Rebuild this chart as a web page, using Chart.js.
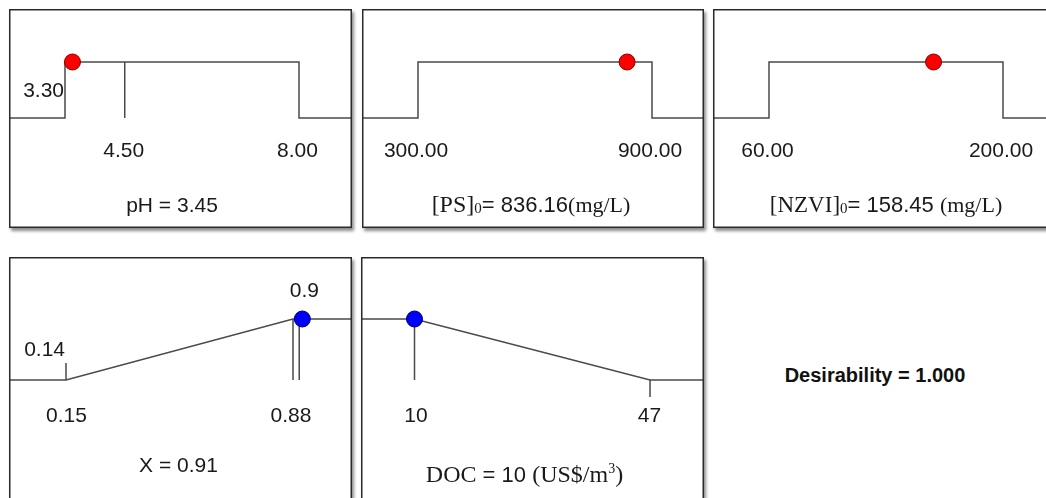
<!DOCTYPE html>
<html>
<head>
<meta charset="utf-8">
<script src="https://cdn.jsdelivr.net/npm/chart.js@4/dist/chart.umd.min.js"></script>
<style>
  html, body { margin: 0; padding: 0; background: #fff; width: 1046px; height: 498px; overflow: hidden; }
  .panel { position: absolute; background: #fff; box-shadow: 2px 3px 3px rgba(0,0,0,0.45); }
  .panel canvas { display: block; }
  #desir { position: absolute; left: 775px; top: 363px; width: 200px; text-align: center;
           font: bold 20px "Liberation Sans", Arial, sans-serif; color: #111; white-space: nowrap; line-height: 24px; }
</style>
</head>
<body>
<div class="panel" id="w1" style="left:9px;top:9px;width:343px;height:219px"><canvas id="c1" width="343" height="219"></canvas></div>
<div class="panel" id="w2" style="left:362px;top:9px;width:342px;height:219px"><canvas id="c2" width="342" height="219"></canvas></div>
<div class="panel" id="w3" style="left:713px;top:9px;width:345px;height:219px"><canvas id="c3" width="345" height="219"></canvas></div>
<div class="panel" id="w4" style="left:9px;top:257px;width:343px;height:250px"><canvas id="c4" width="343" height="250"></canvas></div>
<div class="panel" id="w5" style="left:361px;top:257px;width:343px;height:250px"><canvas id="c5" width="343" height="250"></canvas></div>
<div id="desir"></div>

<script>
// ---------------- data ----------------
const phLimits   = [3.30, 8.00];
const phMarks    = [4.50];
const phValue    = 3.45;
const psLimits   = [300, 900];
const psValue    = 836.16;
const nzviLimits = [60, 200];
const nzviValue  = 158.45;
const xLimits    = [0.15, 0.88];
const xMarks     = [0.88, 0.90];
const xTopLabels = [0.14, 0.9];
const xValue     = 0.91;
const docLimits  = [10, 47];
const docValue   = 10;
const desirabilityLevels = [0, 1];
const desirability = 1.000;

// ---------------- style ----------------
const LINE = '#4a4a4a';
const SANS = '"Liberation Sans", Arial, sans-serif';
const SERIF = '"Liberation Serif", "Times New Roman", serif';
const TXT = '#1a1a1a';
const LO = desirabilityLevels[0], HI = desirabilityLevels[1];

const ROW1_Y = { min: -1.9643, max: 1.9464 };
const ROW2_Y = { min: -2.082,  max: 2.0164 };

const sans = (s) => `${s}px ${SANS}`;
const serif = (s) => `${s}px ${SERIF}`;

const panels = [
  { canvas: 'c1', x: { min: 2.1752, max: 9.0645 }, y: ROW1_Y,
    curve: (a) => [[a.min, LO], [phLimits[0], LO], [phLimits[0], HI], [phLimits[1], HI], [phLimits[1], LO], [a.max, LO]],
    segs: phMarks.map(v => [[v, HI], [v, LO]]),
    dot: { x: phValue, y: HI, color: '#ff0000', border: '#8a0000' },
    labels: [
      { x: phLimits[0], dx: -1, y: 87.7, align: 'right', runs: [{ t: phLimits[0].toFixed(2), f: sans(21) }] },
      { x: phMarks[0], dx: -1, y: 147.7, runs: [{ t: phMarks[0].toFixed(2), f: sans(21) }] },
      { x: phLimits[1], dx: -1.5, y: 147.7, runs: [{ t: phLimits[1].toFixed(2), f: sans(21) }] },
      { px: 163, y: 202.5, runs: [{ t: 'pH = ' + phValue.toFixed(2), f: sans(21) }] }
    ] },
  { canvas: 'c2', x: { min: 156.41, max: 1033.33 }, y: ROW1_Y,
    curve: (a) => [[a.min, LO], [psLimits[0], LO], [psLimits[0], HI], [psLimits[1], HI], [psLimits[1], LO], [a.max, LO]],
    segs: [],
    dot: { x: psValue, y: HI, color: '#ff0000', border: '#8a0000' },
    labels: [
      { x: psLimits[0], dx: -2, y: 147.7, runs: [{ t: psLimits[0].toFixed(2), f: sans(21) }] },
      { x: psLimits[1], dx: -2, y: 147.7, runs: [{ t: psLimits[1].toFixed(2), f: sans(21) }] },
      { px: 169, y: 203, runs: [
        { t: '[PS]', f: serif(24) }, { t: '0', f: serif(15), dy: 1 },
        { t: '= ' + psValue.toFixed(2), f: sans(22) }, { t: '(mg/L)', f: serif(22) } ] }
    ] },
  { canvas: 'c3', x: { min: 26.50, max: 232.91 }, y: ROW1_Y,
    curve: (a) => [[a.min, LO], [nzviLimits[0], LO], [nzviLimits[0], HI], [nzviLimits[1], HI], [nzviLimits[1], LO], [a.max, LO]],
    segs: [],
    dot: { x: nzviValue, y: HI, color: '#ff0000', border: '#8a0000' },
    labels: [
      { x: nzviLimits[0], dx: -1.5, y: 147.7, runs: [{ t: nzviLimits[0].toFixed(2), f: sans(21) }] },
      { x: nzviLimits[1], dx: -2, y: 147.7, runs: [{ t: nzviLimits[1].toFixed(2), f: sans(21) }] },
      { px: 173, y: 203, runs: [
        { t: '[NZVI]', f: serif(23) }, { t: '0', f: serif(15), dy: 1 },
        { t: '= ' + nzviValue.toFixed(2) + ' ', f: sans(22) }, { t: '(mg/L)', f: serif(22) } ] }
    ] },
  { canvas: 'c4', x: { min: -0.0333, max: 1.0697 }, y: ROW2_Y,
    curve: (a) => [[a.min, LO], [xLimits[0], LO], [xLimits[1], HI], [a.max, HI]],
    segs: [[[xLimits[0], LO], [xLimits[0], 0.28]]].concat(xMarks.map(v => [[v, HI], [v, LO]])),
    dot: { x: xValue, y: HI, color: '#0000ff', border: '#00005a' },
    labels: [
      { x: xLimits[0], dx: -1, y: 99, align: 'right', runs: [{ t: xTopLabels[0].toFixed(2), f: sans(21) }] },
      { x: xValue, dx: 2, y: 39.7, runs: [{ t: String(xTopLabels[1]), f: sans(21) }] },
      { x: xLimits[0], dx: 0.5, y: 164.7, runs: [{ t: xLimits[0].toFixed(2), f: sans(21) }] },
      { x: xLimits[1], dx: -2, y: 164.7, runs: [{ t: xLimits[1].toFixed(2), f: sans(21) }] },
      { px: 169.5, y: 214.5, runs: [{ t: 'X = ' + xValue.toFixed(2), f: sans(21) }] }
    ] },
  { canvas: 'c5', x: { min: 1.595, max: 55.48 }, y: ROW2_Y,
    curve: (a) => [[a.min, HI], [docLimits[0], HI], [docLimits[1], LO], [a.max, LO]],
    segs: [[[docLimits[0], HI], [docLimits[0], LO]], [[docLimits[1], LO], [docLimits[1], -0.28]]],
    dot: { x: docValue, y: HI, color: '#0000ff', border: '#00005a' },
    labels: [
      { x: docLimits[0], dx: 1.5, y: 164.7, runs: [{ t: String(docLimits[0]), f: sans(21) }] },
      { x: docLimits[1], dx: -0.5, y: 164.7, runs: [{ t: String(docLimits[1]), f: sans(21) }] },
      { px: 163.5, y: 224.5, runs: [
        { t: 'DOC', f: serif(24) }, { t: ' = ' + docValue + ' ', f: sans(22) },
        { t: '(US$/m', f: serif(24) }, { t: '3', f: serif(14), dy: -9 }, { t: ')', f: serif(24) } ] }
    ] }
];

const decorPlugin = {
  id: 'decor',
  afterDraw(chart, args, opts) {
    const ctx = chart.ctx;
    const xs = chart.scales.x;
    ctx.save();
    ctx.fillStyle = TXT;
    ctx.textBaseline = 'alphabetic';
    ctx.textAlign = 'left';
    for (const lab of opts.labels) {
      const widths = lab.runs.map(r => { ctx.font = r.f; return ctx.measureText(r.t).width; });
      const total = widths.reduce((s, w) => s + w, 0);
      const anchor = (lab.x !== undefined ? xs.getPixelForValue(lab.x) : lab.px) + (lab.dx || 0);
      let start = lab.align === 'right' ? anchor - total : anchor - total / 2;
      lab.runs.forEach((r, i) => {
        ctx.font = r.f;
        ctx.fillText(r.t, start, lab.y + (r.dy || 0));
        start += widths[i];
      });
    }
    ctx.strokeStyle = '#2a2a2a';
    ctx.lineWidth = 1.5;
    ctx.strokeRect(0.75, 0.75, chart.width - 1.5, chart.height - 1.5);
    ctx.restore();
  }
};

function lineSet(pts) {
  return { data: pts.map(([x, y]) => ({ x, y })), showLine: true, borderColor: LINE, borderWidth: 1.5,
           pointRadius: 0, pointHoverRadius: 0, fill: false, tension: 0, clip: 0 };
}

panels.forEach(p => {
  const datasets = [
    { data: [{ x: p.dot.x, y: p.dot.y }], showLine: false, pointRadius: 8, pointHoverRadius: 8,
      backgroundColor: p.dot.color, borderColor: p.dot.border, borderWidth: 1, clip: false },
    lineSet(p.curve(p.x))
  ].concat(p.segs.map(lineSet));
  new Chart(document.getElementById(p.canvas), {
    type: 'scatter',
    data: { datasets },
    options: {
      responsive: false, animation: false, events: [],
      layout: { padding: 0, autoPadding: false },
      scales: {
        x: { type: 'linear', display: false, min: p.x.min, max: p.x.max },
        y: { type: 'linear', display: false, min: p.y.min, max: p.y.max }
      },
      plugins: { legend: { display: false }, tooltip: { enabled: false }, decor: { labels: p.labels } }
    },
    plugins: [decorPlugin]
  });
});

document.getElementById('desir').textContent = 'Desirability = ' + desirability.toFixed(3);
</script>
</body>
</html>
